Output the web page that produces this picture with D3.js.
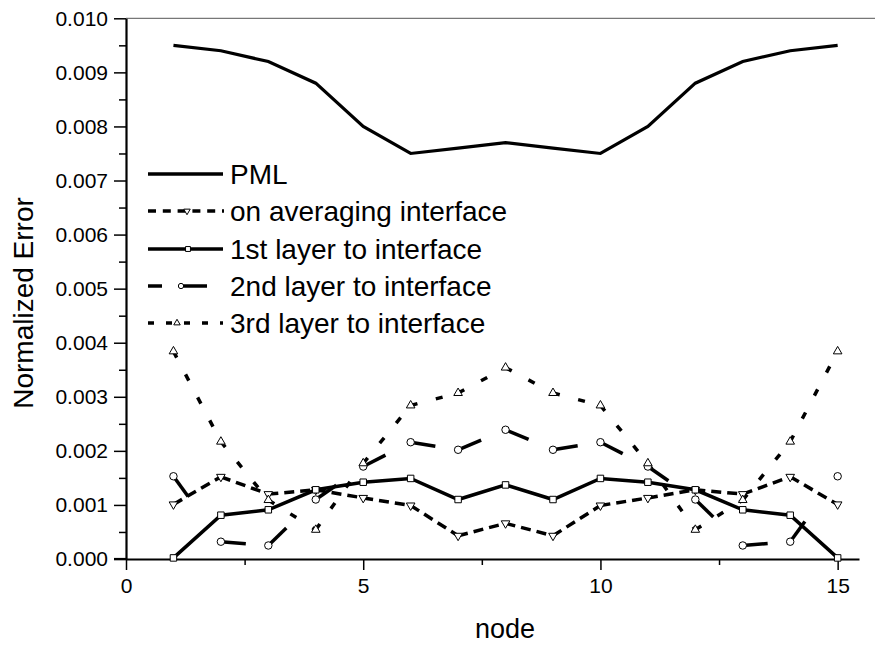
<!DOCTYPE html>
<html><head><meta charset="utf-8">
<script src="https://cdn.jsdelivr.net/npm/d3@7"></script>
<style>
body{margin:0;background:#fff}
text{font-family:"Liberation Sans",Arial,Helvetica,sans-serif;fill:#000}
</style>
</head><body>
<svg id="chart" width="875" height="646"></svg>
<script>
// ---- data ----
const nodes = [1,2,3,4,5,6,7,8,9,10,11,12,13,14,15];
const pml       = [0.0095,0.0094,0.0092,0.0088,0.0080,0.0075,0.0076,0.0077,0.0076,0.0075,0.0080,0.0088,0.0092,0.0094,0.0095];
const averaging = [0.00101,0.00152,0.00120,0.00128,0.00113,0.00099,0.00043,0.00066,0.00043,0.00099,0.00113,0.00128,0.00120,0.00152,0.00101];
const layer1    = [0.00002,0.00081,0.00091,0.00128,0.00142,0.00149,0.00110,0.00137,0.00110,0.00149,0.00142,0.00128,0.00091,0.00081,0.00002];
const layer2    = [0.00153,0.00032,0.00025,0.00110,0.00171,0.00216,0.00202,0.00239,0.00202,0.00216,0.00171,0.00110,0.00025,0.00032,0.00153];
const layer3    = [0.00384,0.00217,0.00109,0.00054,0.00177,0.00284,0.00307,0.00354,0.00307,0.00284,0.00177,0.00054,0.00109,0.00217,0.00384];
const seriesNames = ["PML","on averaging interface","1st layer to interface","2nd layer to interface","3rd layer to interface"];
const yTicks = [0,0.001,0.002,0.003,0.004,0.005,0.006,0.007,0.008,0.009,0.010];
const xTicks = [0,5,10,15];
const xMinor = [2.5,7.5,12.5];

const svg = d3.select("#chart");
const x = d3.scaleLinear().domain([0,15.45]).range([126,859]);
const y = d3.scaleLinear().domain([0,0.010]).range([559,18.3]);

// top frame line
svg.append("line").attr("x1",126).attr("x2",875).attr("y1",y(0.010)).attr("y2",y(0.010))
  .attr("stroke","#555").attr("stroke-width",1);

// y axis
const yMinor = d3.range(0,10).map(i=>(i+0.5)/1000);
const gyMin = svg.append("g").attr("transform","translate(126,0)")
  .call(d3.axisLeft(y).tickValues(yMinor).tickSize(7).tickFormat(""));
gyMin.select(".domain").remove();
gyMin.selectAll("line").attr("stroke-width",1.5);
const gy = svg.append("g").attr("transform","translate(126,0)")
  .call(d3.axisLeft(y).tickValues(yTicks).tickSize(12).tickSizeOuter(0).tickFormat(d3.format(".3f")));
gy.select(".domain").attr("stroke-width",2.2);
gy.selectAll(".tick line").attr("stroke-width",1.5);
gy.selectAll(".tick text").attr("x",-18).style("font-size","21px").attr("font-family",null);

// x axis
const gxMin = svg.append("g").attr("transform","translate(0,559)")
  .call(d3.axisBottom(x).tickValues(xMinor).tickSize(6).tickFormat(""));
gxMin.select(".domain").remove();
gxMin.selectAll("line").attr("stroke-width",1.5);
const gx = svg.append("g").attr("transform","translate(0,559)")
  .call(d3.axisBottom(x).tickValues(xTicks).tickSize(11).tickSizeOuter(0).tickFormat(d3.format("d")));
gx.select(".domain").attr("stroke-width",2.2);
gx.selectAll(".tick line").attr("stroke-width",1.5);
gx.selectAll(".tick text").attr("y",34).attr("dy",null).style("font-size","21px").attr("font-family",null);
svg.append("line").attr("x1",114).attr("x2",126).attr("y1",559).attr("y2",559).attr("stroke","#000").attr("stroke-width",2.2);

// axis titles
svg.append("text").attr("x",505).attr("y",638).attr("text-anchor","middle").style("font-size","27px").text("node");
svg.append("text").attr("transform","translate(33,303) rotate(-90)").attr("text-anchor","middle")
  .style("font-size","28px").text("Normalized Error");

// series drawing
const line = d3.line().x(d=>x(d[0])).y(d=>y(d[1]));
function drawSeries(vals, dash, width){
  const pts = nodes.map((n,i)=>[n,vals[i]]);
  const g = svg.append("g");
  if(!dash){
    g.append("path").attr("d",line(pts)).attr("fill","none").attr("stroke","#000")
      .attr("stroke-width",width).attr("stroke-linejoin","miter");
  } else {
    d3.pairs(pts).forEach(p=>{
      g.append("path").attr("d",line(p)).attr("fill","none").attr("stroke","#000")
        .attr("stroke-width",width).attr("stroke-dasharray",dash);
    });
  }
  return pts;
}
function drawSymbols(pts, type, size, rot){
  svg.append("g").selectAll("path").data(pts).join("path")
    .attr("d",d3.symbol().type(type).size(size))
    .attr("transform",d=>`translate(${x(d[0])},${y(d[1])}) rotate(${rot||0})`)
    .attr("fill","#fff").attr("stroke","#000").attr("stroke-width",1);
}

drawSeries(pml, null, 3.2);
const pA = drawSeries(averaging, "10,6", 3.5);
const p1 = drawSeries(layer1, null, 3.5);
const p2 = drawSeries(layer2, "25,200", 3.5);
const p3 = drawSeries(layer3, "7,19", 3.5);
drawSymbols(pA, d3.symbolTriangle, 32, 180);
drawSymbols(p1, d3.symbolSquare, 42, 0);
drawSymbols(p2, d3.symbolCircle, 44, 0);
drawSymbols(p3, d3.symbolTriangle, 32, 0);

// legend
const legY = [174,211,249,286,323];
const lg = svg.append("g");
function legLine(x1,x2,yy,dash){
  lg.append("line").attr("x1",x1).attr("x2",x2).attr("y1",yy).attr("y2",yy)
    .attr("stroke","#000").attr("stroke-width",3.5).attr("stroke-dasharray",dash||null);
}
function legSym(cx,cy,type,size,rot){
  lg.append("path").attr("d",d3.symbol().type(type).size(size)())
    .attr("transform",`translate(${cx},${cy}) rotate(${rot||0})`)
    .attr("fill","#fff").attr("stroke","#000").attr("stroke-width",1);
}
legLine(148,223,legY[0]);
legLine(148,224,legY[1],"8,6.8");
legSym(187,legY[1],d3.symbolTriangle,18,180);
legLine(148,223,legY[2]);
legSym(188,legY[2],d3.symbolSquare,24,0);
legLine(148,162,legY[3]);
legLine(181,207,legY[3]);
legSym(181,legY[3],d3.symbolCircle,22,0);
legLine(148,223,legY[4],"6,12");
legSym(177,legY[4],d3.symbolTriangle,18,0);
seriesNames.forEach((s,i)=>{
  lg.append("text").attr("x",230).attr("y",legY[i]).attr("dy","0.36em")
    .style("font-size","28px").text(s);
});
</script>
</body></html>
